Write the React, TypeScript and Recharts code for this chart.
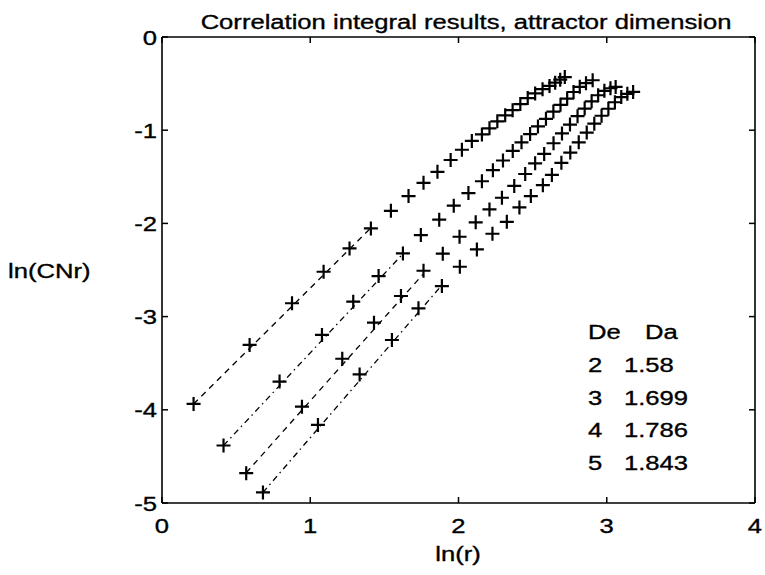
import React from 'react';
import { ComposedChart, XAxis, YAxis, Scatter, Line, Customized } from 'recharts';

const W = 765;
const H = 575;
const FONT = '"Liberation Sans", Arial, Helvetica, sans-serif';
const FS = 21;
const STRETCH = 1.22;

// ln(r) / ln(C_N(r)) samples for each embedding dimension De
const lnR_De2 = [0.213, 0.591, 0.877, 1.090, 1.265, 1.409, 1.544, 1.663, 1.764, 1.858, 1.947, 2.023, 2.090, 2.158, 2.209, 2.262, 2.315, 2.365, 2.417, 2.467, 2.517, 2.567, 2.614, 2.652, 2.686, 2.717];
const lnC_De2 = [-3.937, -3.304, -2.857, -2.519, -2.268, -2.054, -1.865, -1.707, -1.565, -1.447, -1.320, -1.210, -1.115, -1.045, -0.980, -0.905, -0.840, -0.785, -0.720, -0.655, -0.605, -0.560, -0.525, -0.490, -0.458, -0.430];

const lnR_De3 = [0.415, 0.793, 1.079, 1.290, 1.461, 1.625, 1.746, 1.870, 1.968, 2.067, 2.158, 2.232, 2.300, 2.366, 2.425, 2.483, 2.536, 2.590, 2.640, 2.688, 2.733, 2.776, 2.818, 2.860, 2.905];
const lnC_De3 = [-4.383, -3.697, -3.197, -2.840, -2.565, -2.322, -2.125, -1.960, -1.810, -1.675, -1.548, -1.429, -1.325, -1.222, -1.130, -1.042, -0.960, -0.878, -0.800, -0.728, -0.662, -0.590, -0.535, -0.495, -0.464];

const lnR_De4 = [0.568, 0.944, 1.216, 1.430, 1.612, 1.764, 1.894, 2.007, 2.116, 2.209, 2.293, 2.376, 2.450, 2.517, 2.578, 2.641, 2.698, 2.752, 2.803, 2.851, 2.898, 2.942, 2.984, 3.025, 3.060];
const lnC_De4 = [-4.680, -3.966, -3.452, -3.065, -2.779, -2.508, -2.325, -2.143, -1.988, -1.850, -1.725, -1.598, -1.470, -1.355, -1.255, -1.140, -1.035, -0.940, -0.850, -0.768, -0.690, -0.625, -0.578, -0.550, -0.536];

const lnR_De5 = [0.681, 1.052, 1.333, 1.551, 1.730, 1.888, 2.009, 2.124, 2.229, 2.326, 2.411, 2.488, 2.569, 2.630, 2.694, 2.754, 2.811, 2.865, 2.916, 2.965, 3.011, 3.055, 3.098, 3.139, 3.178];
const lnC_De5 = [-4.887, -4.162, -3.620, -3.251, -2.911, -2.672, -2.465, -2.279, -2.111, -1.983, -1.829, -1.707, -1.590, -1.480, -1.350, -1.240, -1.130, -1.025, -0.930, -0.845, -0.770, -0.700, -0.645, -0.610, -0.589];

// Embedding dimension, fitted attractor dimension (slope), and the fit segment
const DE = [2, 3, 4, 5];
const DA = [1.58, 1.699, 1.786, 1.843];
const FIT_INTERCEPT = [-4.274, -5.088, -5.690, -6.142];
const FIT_FROM = [0.213, 0.415, 0.568, 0.681];
const FIT_TO = [1.409, 1.625, 1.764, 1.888];
const FIT_DASH = ['6 5', '6 4 1.5 4', '6 5', '6 4 1.5 4'];

const X_TICKS = [0, 1, 2, 3, 4];
const Y_TICKS = [-5, -4, -3, -2, -1, 0];

const TITLE = 'Correlation integral results, attractor dimension';
const X_LABEL = 'ln(r)';
const Y_LABEL = 'ln(CNr)';

const toPoints = (xs: number[], ys: number[]) => xs.map((x, i) => ({ x, y: ys[i] }));
const SERIES = [
  toPoints(lnR_De2, lnC_De2),
  toPoints(lnR_De3, lnC_De3),
  toPoints(lnR_De4, lnC_De4),
  toPoints(lnR_De5, lnC_De5),
];
const FITS = DA.map((slope, i) => [
  { x: FIT_FROM[i], y: slope * FIT_FROM[i] + FIT_INTERCEPT[i] },
  { x: FIT_TO[i], y: slope * FIT_TO[i] + FIT_INTERCEPT[i] },
]);

function SText({ x, y, anchor = 'start', children }: any) {
  return (
    <text
      transform={`translate(${x} ${y}) scale(${STRETCH} 1)`}
      textAnchor={anchor}
      fontFamily={FONT}
      fontSize={FS}
      fill="#000"
      stroke="#000"
      strokeWidth={0.35}
    >
      {children}
    </text>
  );
}

const TICK_LEN = 6;
const STROKE = '#000';
const AXIS_LINE = { stroke: STROKE, strokeWidth: 1.6 };

const BottomTick = ({ x, y, payload }: any) => (
  <g>
    <line x1={x} y1={y} x2={x} y2={y - TICK_LEN} stroke={STROKE} strokeWidth={1.5} />
    <SText x={x} y={y + 30} anchor="middle">{payload.value}</SText>
  </g>
);

const TopTick = ({ x, y }: any) => (
  <line x1={x} y1={y} x2={x} y2={y + TICK_LEN} stroke={STROKE} strokeWidth={1.5} />
);

const LeftTick = ({ x, y, payload }: any) => (
  <g>
    <line x1={x} y1={y} x2={x + TICK_LEN} y2={y} stroke={STROKE} strokeWidth={1.5} />
    <SText x={x - 5} y={y + 7.5} anchor="end">{payload.value}</SText>
  </g>
);

const RightTick = ({ x, y }: any) => (
  <line x1={x} y1={y} x2={x - TICK_LEN} y2={y} stroke={STROKE} strokeWidth={1.5} />
);

const Plus = ({ cx, cy }: any) => (
  <path d={`M${cx - 7},${cy}h14M${cx},${cy - 7}v14`} stroke="#000" strokeWidth={2.2} fill="none" />
);

const Nothing = () => <g />;

const Texts = () => (
  <g>
    <SText x={466} y={29} anchor="middle">{TITLE}</SText>
    <SText x={458} y={561} anchor="middle">{X_LABEL}</SText>
    <SText x={8} y={278} anchor="start">{Y_LABEL}</SText>
    <SText x={588} y={339}>De</SText>
    <SText x={645} y={339}>Da</SText>
    {DE.map((d, i) => (
      <g key={d}>
        <SText x={588} y={372 + i * 32.7}>{d}</SText>
        <SText x={624} y={372 + i * 32.7}>{DA[i]}</SText>
      </g>
    ))}
  </g>
);

export default function App() {
  return (
    <div style={{ width: W, height: H, background: '#fff' }}>
      <style>{'body{margin:0;background:#fff}'}</style>
      <ComposedChart width={W} height={H} margin={{ top: 36, right: 9, bottom: 0, left: 0 }}>
        <XAxis
          xAxisId="b"
          type="number"
          dataKey="x"
          orientation="bottom"
          domain={[0, 4]}
          ticks={X_TICKS}
          interval={0}
          allowDataOverflow
          height={72}
          axisLine={AXIS_LINE}
          tickLine={false}
          tickSize={0}
          tickMargin={0}
          tick={BottomTick}
        />
        <XAxis
          xAxisId="t"
          type="number"
          dataKey="x"
          orientation="top"
          domain={[0, 4]}
          ticks={X_TICKS}
          interval={0}
          allowDataOverflow
          height={1}
          axisLine={AXIS_LINE}
          tickLine={false}
          tickSize={0}
          tickMargin={0}
          tick={TopTick}
        />
        <YAxis
          yAxisId="l"
          type="number"
          dataKey="y"
          orientation="left"
          domain={[-5, 0]}
          ticks={Y_TICKS}
          interval={0}
          allowDataOverflow
          width={162}
          axisLine={AXIS_LINE}
          tickLine={false}
          tickSize={0}
          tickMargin={0}
          tick={LeftTick}
        />
        <YAxis
          yAxisId="r"
          type="number"
          dataKey="y"
          orientation="right"
          domain={[-5, 0]}
          ticks={Y_TICKS}
          interval={0}
          allowDataOverflow
          width={1}
          axisLine={AXIS_LINE}
          tickLine={false}
          tickSize={0}
          tickMargin={0}
          tick={RightTick}
        />
        <Scatter
          xAxisId="t"
          yAxisId="r"
          data={[{ x: 0, y: 0 }]}
          dataKey="y"
          shape={Nothing}
          isAnimationActive={false}
        />
        {FITS.map((fit, i) => (
          <Line
            key={`fit-${DE[i]}`}
            xAxisId="b"
            yAxisId="l"
            data={fit}
            dataKey="y"
            type="linear"
            stroke="#000"
            strokeWidth={1.3}
            strokeDasharray={FIT_DASH[i]}
            dot={false}
            activeDot={false}
            isAnimationActive={false}
          />
        ))}
        {SERIES.map((pts, i) => (
          <Scatter
            key={`de-${DE[i]}`}
            xAxisId="b"
            yAxisId="l"
            data={pts}
            dataKey="y"
            shape={Plus}
            isAnimationActive={false}
          />
        ))}
        <Customized component={Texts} />
      </ComposedChart>
    </div>
  );
}
